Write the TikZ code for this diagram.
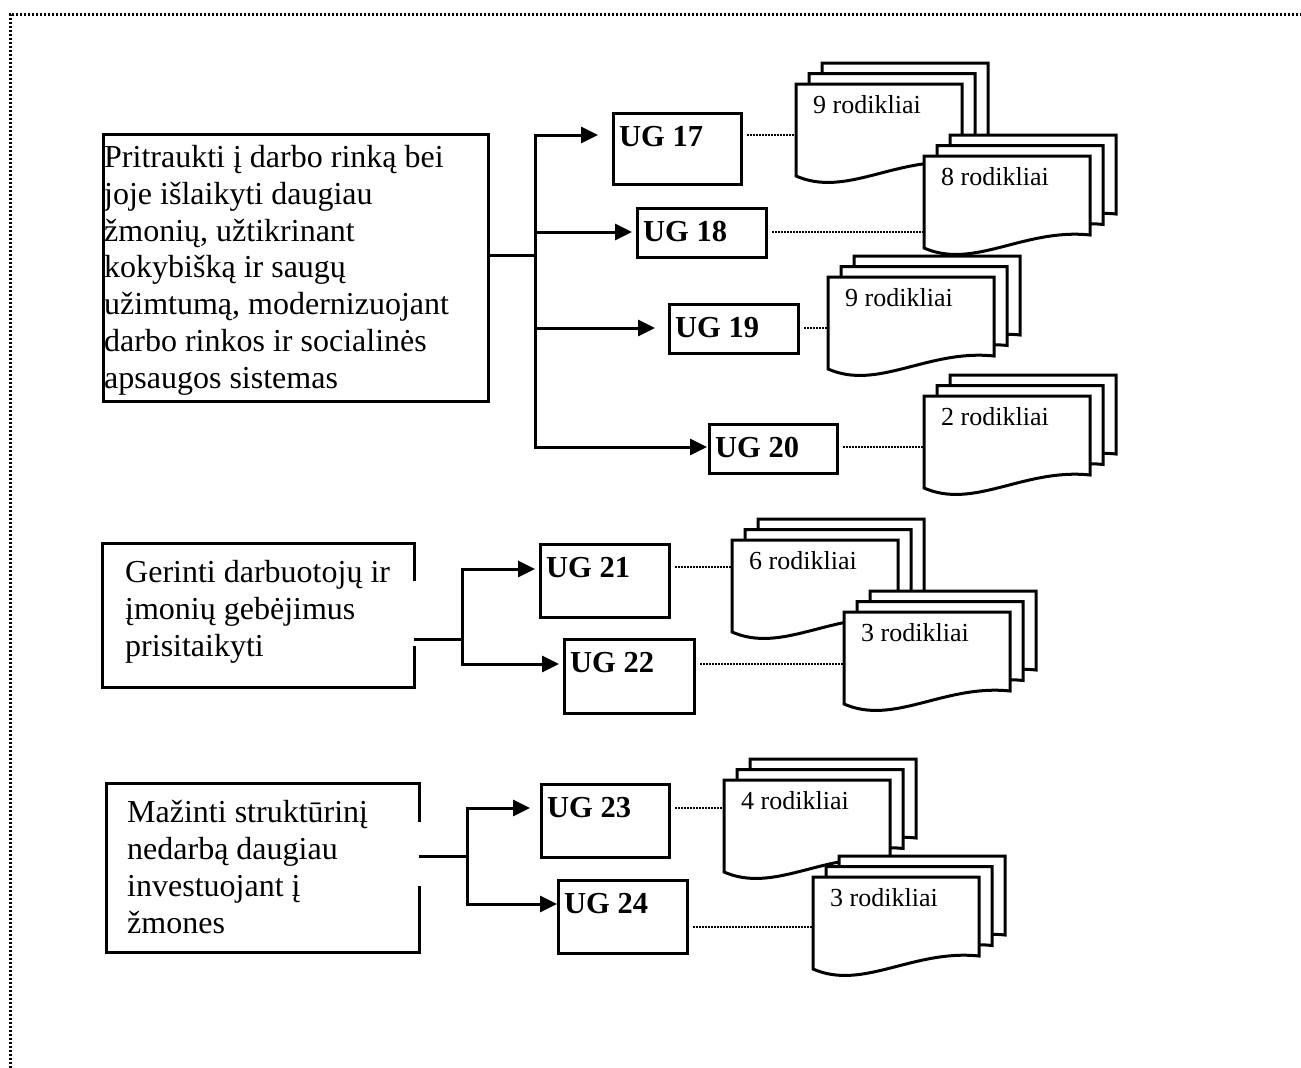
\documentclass[tikz,border=0pt]{standalone}
\usepackage{fontspec}
\setmainfont{Liberation Serif}
\usetikzlibrary{arrows.meta,calc}
\tikzset{
  ln/.style={line width=3pt},
  arr/.style={ln, -{Triangle[length=17pt,width=16pt]}},
  boxb/.style={draw, line width=3pt, inner sep=0pt, anchor=north west},
  nobox/.style={inner sep=0pt, anchor=north west},
  ugt/.style={font=\fontsize{30.5}{36}\selectfont\bfseries, anchor=base west, inner sep=0pt},
  bodyt/.style={font=\fontsize{32}{36.7}\selectfont, anchor=base west, align=left, inner sep=0pt},
  doct/.style={font=\fontsize{26}{30}\selectfont, anchor=base west, inner sep=0pt},
  page/.style={draw, fill=white, line width=3pt, line join=miter},
  dots/.style={line width=1.8pt, dash pattern=on 1.5pt off 1.5pt, shorten <=4pt},
  framel/.style={line width=3pt, dash pattern=on 2.2pt off 1.8pt},
}
\newcommand\UGbox[6]{%
  \node[boxb, minimum width=#4pt, minimum height=#5pt] (#1) at (#2,#3) {};
  \node[ugt] (#1t) at ($(#1.north west)+(7,34)$) {#6};}
\newcommand\DOCstack[4]{%
  \foreach \k in {2,1,0}{%
    \draw[page, shift={(#2+13*\k,#3-10.5*\k)}] (0,0) -- (166,0) -- (166,79)
      .. controls (100,72) and (50,114) .. (0,92) -- cycle;}
  \coordinate (#1l) at (#2,#3);
  \node[doct] (#1) at (#2+17,#3+29) {#4};}
\begin{document}
\begin{tikzpicture}[x=1pt,y=-1pt]
\useasboundingbox (0,0) rectangle (1301,1068);
\draw[framel] (10,1068) -- (10,14) -- (1301,14);

% left boxes (text node base = last line baseline)
\node[boxb, minimum width=385pt, minimum height=267pt] (b1) at (102,133) {};
\node[bodyt] (b1t) at (104,388) {Pritraukti į darbo rinką bei\\joje išlaikyti daugiau\\žmonių, užtikrinant\\kokybišką ir saugų\\užimtumą, modernizuojant\\darbo rinkos ir socialinės\\apsaugos sistemas};

\node[nobox, minimum width=312pt, minimum height=144pt] (b2) at (102,543) {};
\draw[ln, line join=miter] ($(b2.north east)+(0,38)$) -- (b2.north east) -- (b2.north west)
  -- (b2.south west) -- (b2.south east) -- ++(0,-41);
\node[bodyt] (b2t) at (125,656) {Gerinti darbuotojų ir\\įmonių gebėjimus\\prisitaikyti};

\node[nobox, minimum width=313pt, minimum height=169pt] (b3) at (106,783) {};
\draw[ln, line join=miter] ($(b3.north east)+(0,39)$) -- (b3.north east) -- (b3.north west)
  -- (b3.south west) -- (b3.south east) -- ++(0,-66);
\node[bodyt] (b3t) at (127,933) {Mažinti struktūrinį\\nedarbą daugiau\\investuojant į\\žmones};

% UG boxes
\UGbox{ug17}{612}{112}{128}{71}{UG 17}
\UGbox{ug18}{636}{207}{129}{49}{UG 18}
\UGbox{ug19}{668}{303}{129}{49}{UG 19}
\UGbox{ug20}{708}{423}{128}{49}{UG 20}
\UGbox{ug21}{539}{543}{129}{73}{UG 21}
\UGbox{ug22}{563}{638}{130}{74}{UG 22}
\UGbox{ug23}{540}{783}{128}{73}{UG 23}
\UGbox{ug24}{557}{879}{129}{73}{UG 24}

% connectors group 1
\coordinate (j1) at (535,255);
\draw[ln] (b1.east |- j1) -- (j1);
\draw[arr, shorten >=14pt] (j1) |- (ug17.west |- 0,135);
\draw[arr, shorten >=4pt] (j1 |- 0,232) -- (ug18.west |- 0,232);
\draw[arr, shorten >=13pt] (j1 |- 0,328) -- (ug19.west |- 0,328);
\draw[arr, shorten >=1pt] (j1) |- (ug20.west |- 0,447);

% connectors group 2
\coordinate (j2) at (462,639);
\draw[ln] (b2.east |- j2) -- (j2);
\draw[arr, shorten >=4pt] (j2) |- (ug21.west |- 0,569);
\draw[arr, shorten >=4pt] (j2) |- (ug22.west |- 0,664);

% connectors group 3
\coordinate (j3) at (467,856);
\draw[ln] (b3.east |- j3) -- (j3);
\draw[arr, shorten >=10pt] (j3) |- (ug23.west |- 0,808);
\draw[arr] (j3) |- (ug24.west |- 0,904);

% document stacks
\DOCstack{d1}{796}{84}{9 rodikliai}
\DOCstack{d2}{924}{156}{8 rodikliai}
\DOCstack{d3}{828}{277}{9 rodikliai}
\DOCstack{d4}{924}{396}{2 rodikliai}
\DOCstack{d5}{732}{540}{6 rodikliai}
\DOCstack{d6}{844}{612}{3 rodikliai}
\DOCstack{d7}{724}{780}{4 rodikliai}
\DOCstack{d8}{813}{877}{3 rodikliai}

% dotted links
\draw[dots] (ug17.east |- 0,135) -- (d1l |- 0,135);
\draw[dots] (ug18.east |- 0,232) -- (d2l |- 0,232);
\draw[dots] (ug19.east |- 0,328) -- (d3l |- 0,328);
\draw[dots] (ug20.east |- 0,447) -- (d4l |- 0,447);
\draw[dots] (ug21.east |- 0,567) -- (d5l |- 0,567);
\draw[dots] (ug22.east |- 0,664) -- (d6l |- 0,664);
\draw[dots] (ug23.east |- 0,808) -- (d7l |- 0,808);
\draw[dots] (ug24.east |- 0,927) -- (d8l |- 0,927);
\end{tikzpicture}
\end{document}
